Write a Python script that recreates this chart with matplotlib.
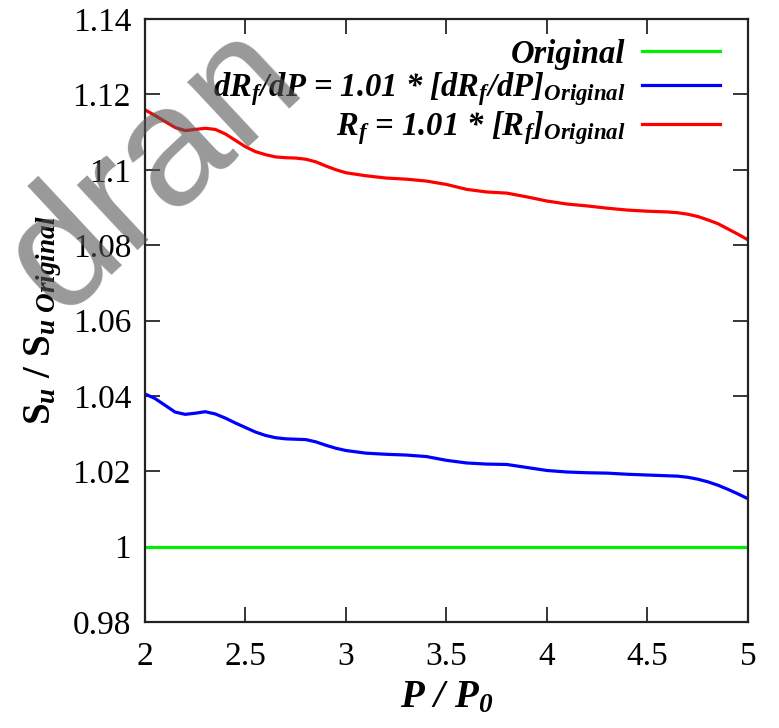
import matplotlib
matplotlib.use("Agg")
import matplotlib.pyplot as plt

# ---- data ----
x_orig = [2.0, 5.0]
y_orig = [1.0, 1.0]

x_pts = [2.0, 2.05, 2.1, 2.15, 2.2, 2.25, 2.3, 2.35, 2.4, 2.45, 2.5, 2.55,
         2.6, 2.65, 2.7, 2.75, 2.8, 2.85, 2.9, 2.95, 3.0, 3.1, 3.2, 3.3, 3.4,
         3.5, 3.6, 3.7, 3.8, 3.9, 4.0, 4.1, 4.2, 4.3, 4.4, 4.5, 4.6, 4.65,
         4.7, 4.75, 4.8, 4.85, 4.9, 4.95, 5.0]
y_drdp = [1.0405, 1.0393, 1.0375, 1.0357, 1.0351, 1.0354, 1.0358, 1.0352,
          1.0341, 1.0328, 1.0316, 1.0304, 1.0295, 1.0289, 1.0286, 1.0285,
          1.0284, 1.0278, 1.0269, 1.0261, 1.0255, 1.0248, 1.0245, 1.0243,
          1.0239, 1.0229, 1.0222, 1.0219, 1.0218, 1.0210, 1.0202, 1.0198,
          1.0196, 1.0195, 1.0192, 1.0190, 1.0188, 1.0187, 1.0184, 1.0179,
          1.0172, 1.0163, 1.0152, 1.0140, 1.0127]
y_rf = [1.1159, 1.1144, 1.1128, 1.1112, 1.1104, 1.1107, 1.1110, 1.1107,
        1.1095, 1.1078, 1.1061, 1.1048, 1.1040, 1.1034, 1.1032, 1.1031,
        1.1028, 1.1021, 1.1010, 1.1000, 1.0992, 1.0984, 1.0978, 1.0975,
        1.0970, 1.0961, 1.0948, 1.0941, 1.0938, 1.0928, 1.0917, 1.0909,
        1.0904, 1.0898, 1.0893, 1.0890, 1.0888, 1.0886, 1.0882, 1.0876,
        1.0867, 1.0857, 1.0843, 1.0829, 1.0814]

x_ticks = [2, 2.5, 3, 3.5, 4, 4.5, 5]
x_ticklabels = ["2", "2.5", "3", "3.5", "4", "4.5", "5"]
y_ticks = [0.98, 1.0, 1.02, 1.04, 1.06, 1.08, 1.10, 1.12, 1.14]
y_ticklabels = ["0.98", "1", "1.02", "1.04", "1.06", "1.08", "1.1", "1.12", "1.14"]

labels = ["Original",
          r"dR$_f$/dP = 1.01 * [dR$_f$/dP]$_{Original}$",
          r"R$_f$ = 1.01 * [R$_f$]$_{Original}$"]

plt.rcParams["font.family"] = "Liberation Serif"
plt.rcParams["mathtext.fontset"] = "custom"
plt.rcParams["mathtext.rm"] = "Liberation Serif:bold:italic"
plt.rcParams["mathtext.it"] = "Liberation Serif:bold:italic"
plt.rcParams["mathtext.bf"] = "Liberation Serif:bold:italic"

fig = plt.figure(figsize=(7.79, 7.28), dpi=100)
ax = fig.add_axes([0.1861, 0.1456, 0.9602 - 0.1861, 0.9739 - 0.1456])

l1, = ax.plot(x_orig, y_orig, color="#00ee00", lw=2.3)
l2, = ax.plot(x_pts, y_drdp, color="#0000ff", lw=2.3, solid_joinstyle="round")
l3, = ax.plot(x_pts, y_rf, color="#ff0000", lw=2.3, solid_joinstyle="round")

ax.set_xlim(2, 5)
ax.set_ylim(0.98, 1.14)
ax.set_xticks(x_ticks)
ax.set_xticklabels(x_ticklabels)
ax.set_yticks(y_ticks)
ax.set_yticklabels(y_ticklabels)
ax.tick_params(direction="in", length=10.5, width=1.1, labelsize=24,
               top=True, right=True, color="black")
ax.tick_params(axis="x", pad=14)
ax.tick_params(axis="y", pad=10)
for s in ax.spines.values():
    s.set_linewidth(1.6)
    s.set_color("#222222")

ax.set_xlabel(r"P / P$_0$", fontsize=28, fontweight="bold", style="italic",
              labelpad=5)
ax.set_ylabel(r"S$_u$ / S$_{u\ Original}$", fontsize=28, fontweight="bold",
              labelpad=6)

leg = ax.legend([l1, l2, l3], labels, loc="upper right", frameon=False,
                bbox_to_anchor=(0.9867, 1.0),
                markerfirst=False, handlelength=2.4, handletextpad=0.5,
                labelspacing=0.03, borderaxespad=0.3, borderpad=0.3,
                prop={"family": "Liberation Serif", "weight": "bold",
                      "style": "italic", "size": 23.5})

fig.text(0.197, 0.768, "dran", fontsize=122, family="Liberation Sans",
         color="#555555", alpha=0.6, rotation=43, ha="center", va="center")

fig.savefig("out.png", dpi=100)
